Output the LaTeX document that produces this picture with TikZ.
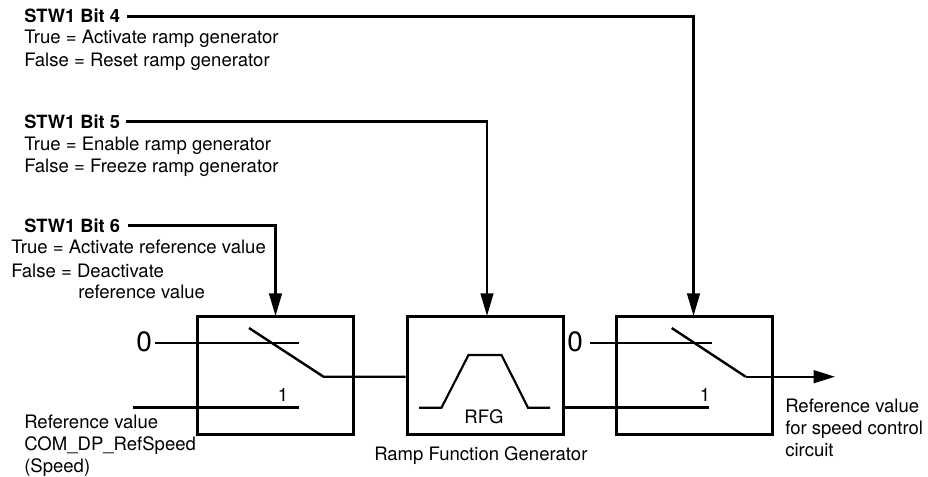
\documentclass[tikz,border=0pt]{standalone}
\usepackage{fontspec}
\setmainfont{TeX Gyre Heros}
\usetikzlibrary{arrows.meta}
\tikzset{
  x=0.75pt,y=-0.75pt,
  lbl/.style={anchor=base west,inner sep=0pt,font=\fontsize{13.9pt}{15pt}\selectfont},
  lblb/.style={lbl,font=\fontsize{13.7pt}{15pt}\selectfont\bfseries},
  zero/.style={anchor=base west,inner sep=0pt,font=\fontsize{21pt}{23pt}\selectfont},
  wire/.style={line width=1.8pt,line join=miter},
  thin wire/.style={line width=1.6pt,line join=miter},
  blockbox/.style={draw,line width=2.25pt,inner sep=0pt,minimum width=117pt,minimum height=88.5pt},
  tipped/.style={wire,-{Triangle[length=17pt,width=9.5pt]}},
}
\begin{document}
\begin{tikzpicture}
\useasboundingbox (0,0) rectangle (928,476);
% blocks
\node[blockbox] (sw1) at (275.5,375) {};
\node[blockbox] (rfg) at (485,375) {};
\node[blockbox] (sw2) at (694.5,375) {};
% texts
\node[lblb] (b4) at (24,22) {STW1 Bit 4};
\node[lbl] at (24,43) {True = Activate ramp generator};
\node[lbl] at (24,66) {False = Reset ramp generator};
\node[lblb] (b5) at (24,128) {STW1 Bit 5};
\node[lbl] at (24,150.5) {True = Enable ramp generator};
\node[lbl] at (24,172) {False = Freeze ramp generator};
\node[lblb] (b6) at (24,232) {STW1 Bit 6};
\node[lbl] at (11,253.5) {True = Activate reference value};
\node[lbl] at (11,277) {False = Deactivate};
\node[lbl] at (78,298.5) {reference value};
\node[zero] (z1) at (136,351.5) {0};
\node[zero] (z2) at (567,351.5) {0};
\node[lbl,anchor=base] (one1) at (283,401.5) {1};
\node[lbl,anchor=base] (one2) at (705,401.5) {1};
\node[lbl,anchor=base] (rfgt) at (484,423) {RFG};
\node[lbl] (rft) at (374,460) {Ramp Function Generator};
\node[lbl] (in1) at (24,428) {Reference value};
\node[lbl] at (24,450) {COM\_DP\_RefSpeed};
\node[lbl] at (24,472.5) {(Speed)};
\node[lbl] (out1) at (785,412) {Reference value};
\node[lbl] at (785,434) {for speed control};
\node[lbl] at (785,456) {circuit};
% control lines
\coordinate (b4s) at (127,16.5);
\coordinate (b5s) at (126,121.5);
\coordinate (b6s) at (128,225.5);
\coordinate (t1) at (275.5,316);
\coordinate (t2) at (487,316);
\coordinate (t3) at (693.5,316);
\draw[tipped] (b4s) -| (t3);
\draw[tipped] (b5s) -| (t2);
\draw[tipped] (b6s) -| (t1);
% switch 1
\coordinate (s1a) at (155,342.7);
\coordinate (s1b) at (299,342.7);
\coordinate (s1c) at (133,407.5);
\coordinate (s1d) at (299,407.5);
\coordinate (s1e) at (249,328);
\coordinate (s1f) at (323.5,376.7);
\draw[wire] (s1a) -- (s1b);
\draw[wire] (s1c) -- (s1d);
\draw[wire] (s1e) -- (s1f) -- (s1f -| rfg.west);
% ramp
\coordinate (r1) at (419,407.7);
\coordinate (r2) at (441.5,407.7);
\coordinate (r3) at (468.5,355);
\coordinate (r4) at (501.5,355);
\coordinate (r5) at (528,407.7);
\coordinate (r6) at (550,407.7);
\draw[thin wire] (r1) -- (r2) -- (r3) -- (r4) -- (r5) -- (r6);
% switch 2
\coordinate (s2a) at (590,342.7);
\coordinate (s2b) at (711.7,342.7);
\coordinate (s2d) at (709,407.5);
\coordinate (s2e) at (671.7,328);
\coordinate (s2f) at (745.7,376.7);
\coordinate (s2o) at (835,376.7);
\draw[wire] (s2a) -- (s2b);
\draw[wire] (s2d -| rfg.east) -- (s2d);
\draw[wire] (s2e) -- (s2f);
\draw[wire,-{Triangle[length=16pt,width=9.5pt]}] (s2f) -- (s2o);
\end{tikzpicture}
\end{document}
